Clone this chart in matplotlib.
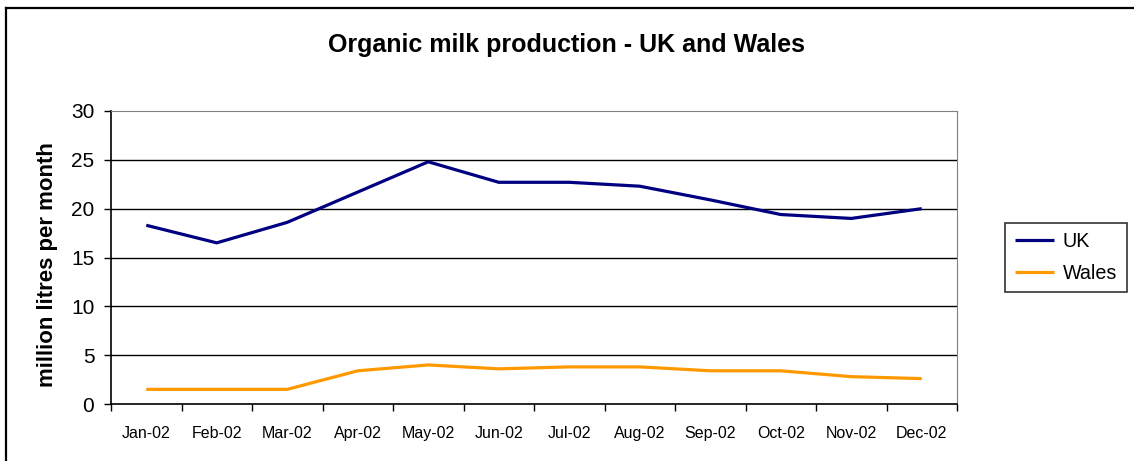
import matplotlib
matplotlib.use("Agg")
import matplotlib.pyplot as plt
from matplotlib.lines import Line2D
import numpy as np

months = ["Jan-02", "Feb-02", "Mar-02", "Apr-02", "May-02", "Jun-02",
          "Jul-02", "Aug-02", "Sep-02", "Oct-02", "Nov-02", "Dec-02"]
uk = [18.3, 16.5, 18.6, 21.7, 24.8, 22.7, 22.7, 22.3, 20.9, 19.4, 19.0, 20.0]
wales = [1.5, 1.5, 1.5, 3.4, 4.0, 3.6, 3.8, 3.8, 3.4, 3.4, 2.8, 2.6]
yticks = [0, 5, 10, 15, 20, 25, 30]

plt.rcParams['font.family'] = ['Liberation Sans', 'DejaVu Sans']

W, H = 1134, 461
fig = plt.figure(figsize=(W / 100, H / 100), dpi=100)
fig.patch.set_facecolor("white")

ax = fig.add_axes([111 / W, 1 - 404 / H, (957 - 111) / W, (404 - 111) / H])
x = np.arange(len(months))
l1, = ax.plot(x, uk, color="#000080", lw=2.3, label="UK", solid_capstyle="butt")
l2, = ax.plot(x, wales, color="#FF9900", lw=2.3, label="Wales", solid_capstyle="butt")

ax.set_xlim(-0.5, len(months) - 0.5)
ax.set_ylim(0, 30)
ax.set_yticks(yticks)
ax.tick_params(axis="y", labelsize=15, length=5, width=1, direction="out", pad=7)
ax.set_xticks(x)
ax.set_xticklabels(months)
ax.tick_params(axis="x", which="major", length=0, labelsize=11.5, pad=16)
ax.set_xticks(np.arange(-0.5, len(months)), minor=True)
ax.tick_params(axis="x", which="minor", length=5, width=1, direction="out")

for v in yticks[1:-1]:
    ax.axhline(v, color="black", lw=1, zorder=0)
ax.spines["top"].set_color("#808080")
ax.spines["right"].set_color("#808080")
ax.spines["left"].set_linewidth(1.2)
ax.spines["bottom"].set_linewidth(1.2)

ax.set_ylabel("million litres per month", fontsize=16, fontweight="bold")
ax.yaxis.set_label_coords(-53 / 846, 0.475)

fig.text(566 / W, 1 - 45 / H, "Organic milk production - UK and Wales",
         ha="center", va="center", fontsize=18, fontweight="bold")

leg = fig.legend(handles=[l1, l2], loc="center", bbox_to_anchor=(1066 / W, 1 - 257.5 / H),
                 frameon=True, fancybox=False, fontsize=14.2, handlelength=2.0,
                 borderpad=0.5, labelspacing=0.62, handletextpad=0.45, borderaxespad=0,
                 edgecolor="black")
leg.get_frame().set_linewidth(1.2)

# outer chart border (top and left only visible)
fig.add_artist(Line2D([6 / W, 1.0], [1 - 8 / H, 1 - 8 / H], color="black", lw=1.6,
                      transform=fig.transFigure))
fig.add_artist(Line2D([6 / W, 6 / W], [0, 1 - 8 / H], color="black", lw=1.6,
                      transform=fig.transFigure))

fig.savefig("out.png", dpi=100)
